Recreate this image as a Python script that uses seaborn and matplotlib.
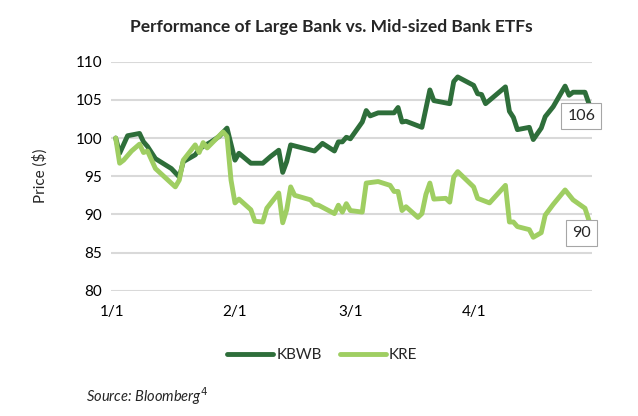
import matplotlib
matplotlib.use("Agg")
import matplotlib.pyplot as plt
import seaborn as sns
import pandas as pd

# ---- data (day offsets from 2024-01-01) ----
kbwb_days = [1, 2, 4, 7, 8, 9, 11, 15, 17, 18, 21, 22, 23, 25, 27, 29, 31, 32, 35, 38,
             40, 42, 43, 44, 45, 51, 53, 56, 57, 58, 59, 60, 63, 64, 65, 67, 71, 72, 73, 74,
             78, 80, 81, 85, 86, 87, 91, 92, 93, 94, 99, 100, 101, 102, 105, 106, 108, 109,
             111, 114, 115, 116, 119, 120]
kbwb_vals = [100.0, 98.0, 100.3, 100.6, 99.5, 98.9, 97.3, 96.0, 94.9, 96.9, 97.8, 98.5, 98.9,
             99.5, 100.2, 101.3, 97.1, 98.0, 96.7, 96.7, 97.6, 98.4, 95.5, 96.9, 99.1, 98.3,
             99.3, 98.3, 99.5, 99.5, 100.1, 99.9, 102.1, 103.6, 102.9, 103.3, 103.3, 104.0,
             102.1, 102.2, 101.4, 106.3, 104.9, 104.5, 107.4, 108.0, 106.9, 105.8, 105.7,
             104.5, 106.7, 103.5, 102.7, 101.1, 101.4, 99.8, 101.3, 102.8, 104.1, 106.8,
             105.6, 106.0, 106.0, 104.5]

kre_days = [1, 2, 3, 5, 7, 8, 9, 11, 16, 17, 18, 21, 22, 23, 24, 28, 29, 30, 31, 32, 35, 36,
            38, 39, 42, 43, 44, 45, 46, 50, 51, 52, 56, 57, 58, 59, 60, 63, 64, 67, 70, 71, 72,
            73, 74, 77, 78, 79, 80, 81, 84, 85, 86, 87, 91, 92, 95, 99, 100, 101, 102, 105,
            106, 108, 109, 111, 114, 116, 119, 120]
kre_vals = [100.0, 96.7, 97.1, 98.3, 99.2, 98.1, 98.3, 96.0, 93.6, 94.5, 97.1, 99.1, 98.1,
            99.4, 98.7, 100.8, 100.2, 94.5, 91.5, 92.0, 90.6, 89.1, 89.0, 90.8, 92.8, 88.9,
            90.6, 93.6, 92.5, 91.9, 91.3, 91.2, 90.1, 91.2, 90.3, 91.4, 90.5, 90.3, 94.1,
            94.3, 93.8, 93.0, 93.0, 90.5, 91.0, 89.6, 90.1, 92.6, 94.1, 92.0, 92.1, 91.6,
            94.9, 95.6, 93.6, 92.1, 91.5, 93.8, 89.0, 89.0, 88.4, 88.0, 87.0, 87.6, 89.9,
            91.3, 93.2, 91.9, 90.8, 89.2]

series_names = ["KBWB", "KRE"]
end_labels = ["106", "90"]
x_tick_dates = ["2024-01-01", "2024-02-01", "2024-03-01", "2024-04-01"]
x_tick_labels = ["1/1", "2/1", "3/1", "4/1"]
y_ticks = [80, 85, 90, 95, 100, 105, 110]

title = "Performance of Large Bank vs. Mid-sized Bank ETFs"
y_label = "Price ($)"
source = "Source: Bloomberg$^{4}$"

colors = {"KBWB": "#2E6E3A", "KRE": "#9FCE62"}

# ---- build dataframe ----
base = pd.Timestamp("2024-01-01")
frames = []
for name, days, vals in [("KBWB", kbwb_days, kbwb_vals), ("KRE", kre_days, kre_vals)]:
    frames.append(pd.DataFrame({
        "date": base + pd.to_timedelta(days, unit="D"),
        "price": vals,
        "series": name,
    }))
df = pd.concat(frames, ignore_index=True)

sns.set_theme(style="white")
plt.rcParams["font.family"] = ["Lato", "DejaVu Sans"]

fig = plt.figure(figsize=(6.38, 4.16), dpi=100)
ax = fig.add_axes([0.1735, 0.3012, 0.754, 0.5505])

sns.lineplot(data=df, x="date", y="price", hue="series", hue_order=series_names,
             palette=colors, linewidth=3.5, ax=ax, legend=False,
             solid_capstyle="round", solid_joinstyle="round")

ax.set_ylim(80, 110)
ax.set_yticks(y_ticks)
ax.set_xlim(base - pd.Timedelta(hours=6), base + pd.Timedelta(days=120.7))
ax.set_xticks(pd.to_datetime(x_tick_dates))
ax.set_xticklabels(x_tick_labels)
ax.tick_params(axis="both", labelsize=11, length=0, colors="black")
ax.tick_params(axis="x", pad=10)
ax.tick_params(axis="y", pad=6)
ax.yaxis.grid(True, color="#D9D9D9", linewidth=1.5)
ax.xaxis.grid(False)
ax.set_axisbelow(True)
for s in ax.spines.values():
    s.set_visible(False)
ax.set_xlabel("")
ax.set_ylabel(y_label, fontsize=11, labelpad=20)

# end labels
for name, lab in zip(series_names, end_labels):
    sub = df[df["series"] == name]
    ax.annotate(lab, xy=(sub["date"].iloc[-1], sub["price"].iloc[-1]),
                xytext=(-5.5, -9), textcoords="offset points",
                ha="center", va="center", fontsize=11.5,
                bbox=dict(boxstyle="square,pad=0.38", fc="white", ec="#A6A6A6", lw=0.8))

fig.text(0.52, 0.935, title, ha="center", va="center", fontsize=12.5, fontweight="bold")

handles = [plt.Line2D([], [], color=colors[n], lw=3.5, solid_capstyle="round") for n in series_names]
fig.legend(handles, series_names, loc="center", bbox_to_anchor=(0.505, 0.146), ncol=2,
           frameon=False, fontsize=11, handlelength=3.0, handletextpad=0.2, columnspacing=1.2)

fig.text(0.135, 0.047, source, ha="left", va="center", fontsize=10.5, fontstyle="italic")

fig.savefig("out.png", dpi=100)
